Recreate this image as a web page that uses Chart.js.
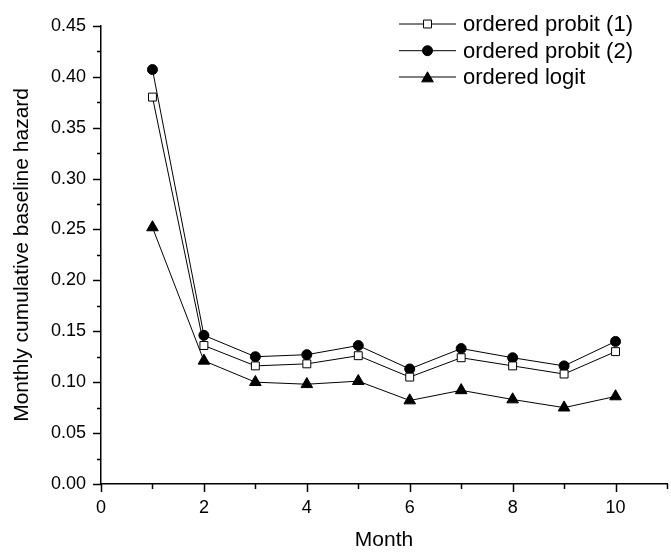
<!DOCTYPE html>
<html>
<head>
<meta charset="utf-8">
<script src="https://cdn.jsdelivr.net/npm/chart.js@4.4.0/dist/chart.umd.min.js"></script>
<style>
  html, body { margin: 0; padding: 0; background: #fff; overflow: hidden; }
  canvas { display: block; }
</style>
</head>
<body>
<canvas id="hazardChart" width="680" height="556"></canvas>
<script>
// data
const months = [1, 2, 3, 4, 5, 6, 7, 8, 9, 10];
const probit1 = [0.380, 0.136, 0.116, 0.118, 0.126, 0.105, 0.124, 0.116, 0.108, 0.130];
const probit2 = [0.407, 0.146, 0.125, 0.127, 0.136, 0.113, 0.133, 0.124, 0.116, 0.140];
const logit = [0.252, 0.121, 0.100, 0.098, 0.101, 0.082, 0.092, 0.083, 0.075, 0.086];
const seriesNames = ['ordered probit (1)', 'ordered probit (2)', 'ordered logit'];
const yTicks = [0.00, 0.05, 0.10, 0.15, 0.20, 0.25, 0.30, 0.35, 0.40, 0.45];
const xTicks = [0, 2, 4, 6, 8, 10];

const FONT = 'Liberation Sans, Arial, sans-serif';

const pts = arr => months.map((m, i) => ({ x: m, y: arr[i] }));

const styles = [
  { pointStyle: 'rect', pointRadius: 5.6, pointBackgroundColor: '#fff' },
  { pointStyle: 'circle', pointRadius: 5, pointBackgroundColor: '#000' },
  { pointStyle: 'triangle', pointRadius: 6.7, pointBackgroundColor: '#000' }
];

const datasets = [probit1, probit2, logit].map((arr, i) => Object.assign({
  label: seriesNames[i],
  data: pts(arr),
  borderColor: '#000',
  borderWidth: 1,
  pointBorderColor: '#000',
  pointBorderWidth: 1,
  tension: 0
}, styles[i]));

// minor/major tick marks drawn outward from each axis
const tickMarks = {
  id: 'tickMarks',
  afterDraw(chart) {
    const ctx = chart.ctx;
    ctx.save();
    ctx.strokeStyle = '#000';
    ctx.lineWidth = 1.5;
    const ys = chart.scales.y, xs = chart.scales.x;
    ys.ticks.forEach(t => {
      const major = yTicks.some(v => Math.abs(v - t.value) < 1e-6);
      const p = Math.round(ys.getPixelForValue(t.value)) + 0.5;
      ctx.beginPath();
      ctx.moveTo(ys.right, p);
      ctx.lineTo(ys.right - (major ? 8 : 4), p);
      ctx.stroke();
    });
    xs.ticks.forEach(t => {
      const major = xTicks.includes(t.value);
      const p = Math.round(xs.getPixelForValue(t.value)) + 0.5;
      ctx.beginPath();
      ctx.moveTo(p, xs.top);
      ctx.lineTo(p, xs.top + (major ? 8 : 5));
      ctx.stroke();
    });
    ctx.restore();
  }
};

// legend: short line through the marker, then the label
const lineLegend = {
  id: 'lineLegend',
  afterDraw(chart) {
    const ctx = chart.ctx;
    const rowsY = [24, 50.7, 77];
    ctx.save();
    chart.data.datasets.forEach((ds, i) => {
      const y = rowsY[i];
      ctx.strokeStyle = '#000';
      ctx.lineWidth = 1;
      ctx.beginPath();
      ctx.moveTo(399, y);
      ctx.lineTo(456, y);
      ctx.stroke();
      ctx.fillStyle = ds.pointBackgroundColor;
      ctx.strokeStyle = '#000';
      Chart.helpers.drawPoint(ctx, {
        pointStyle: ds.pointStyle, radius: ds.pointRadius, rotation: 0, borderWidth: 1
      }, 427.5, y + (ds.pointStyle === 'triangle' ? 1.5 : 0));
      ctx.fillStyle = '#000';
      ctx.font = '22px ' + FONT;
      ctx.textBaseline = 'alphabetic';
      ctx.textAlign = 'left';
      ctx.fillText(ds.label, 463, y + 6.8);
    });
    ctx.restore();
  }
};

new Chart(document.getElementById('hazardChart').getContext('2d'), {
  type: 'line',
  data: { datasets: datasets },
  options: {
    responsive: false,
    animation: false,
    layout: { padding: { top: 18, left: 0, right: 0, bottom: 0 } },
    plugins: {
      legend: { display: false },
      tooltip: { enabled: false }
    },
    scales: {
      x: {
        type: 'linear',
        min: 0,
        max: 11,
        grid: { display: false, drawTicks: false },
        border: { display: true, color: '#000', width: 1.5 },
        ticks: {
          stepSize: 1,
          padding: 13,
          color: '#000',
          font: { family: FONT, size: 18 },
          maxRotation: 0,
          autoSkip: false,
          callback: v => xTicks.includes(v) ? String(v) : ''
        },
        title: {
          display: true,
          text: 'Month',
          color: '#000',
          font: { family: FONT, size: 21 },
          padding: { top: 0, bottom: 3 }
        },
        afterFit: s => { s.height = 72; }
      },
      y: {
        min: 0,
        max: 0.45,
        grid: { display: false, drawTicks: false },
        border: { display: true, color: '#000', width: 1.5 },
        ticks: {
          stepSize: 0.025,
          padding: 15,
          color: '#000',
          font: { family: FONT, size: 18 },
          autoSkip: false,
          callback: v => yTicks.some(t => Math.abs(t - v) < 1e-6) ? v.toFixed(2) : ''
        },
        title: {
          display: true,
          text: 'Monthly cumulative baseline hazard',
          color: '#000',
          font: { family: FONT, size: 21 },
          padding: { top: 10, bottom: 0 }
        },
        afterFit: s => { s.width = 101; }
      }
    }
  },
  plugins: [tickMarks, lineLegend]
});
</script>
</body>
</html>
